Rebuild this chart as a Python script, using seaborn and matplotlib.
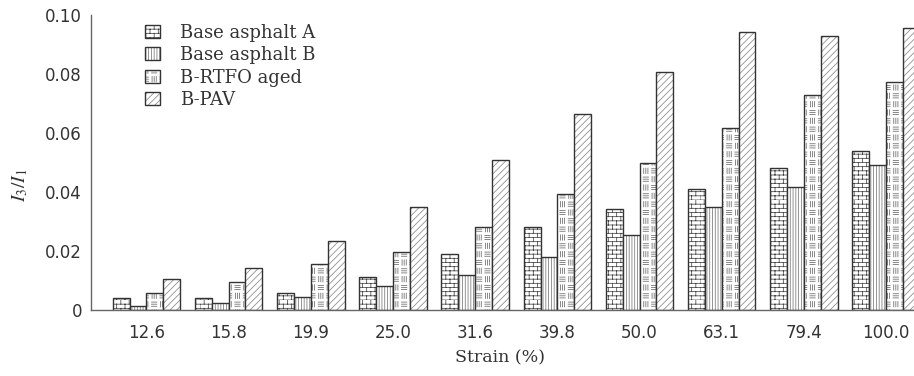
import numpy as np
import pandas as pd
import matplotlib
matplotlib.use("Agg")
import matplotlib.pyplot as plt
import matplotlib.colors as mcolors
import seaborn as sns
from matplotlib import hatch as mhatch
from matplotlib.path import Path
from matplotlib.patches import Patch

# ---------------- data ----------------
strains = ["12.6", "15.8", "19.9", "25.0", "31.6", "39.8", "50.0", "63.1", "79.4", "100.0"]
series_names = ["Base asphalt A", "Base asphalt B", "B-RTFO aged", "B-PAV"]
base_a = [0.0040, 0.0041, 0.0059, 0.0113, 0.0190, 0.0280, 0.0342, 0.0410, 0.0480, 0.0539]
base_b = [0.0014, 0.0025, 0.0044, 0.0081, 0.0120, 0.0179, 0.0254, 0.0348, 0.0416, 0.0490]
rtfo = [0.0059, 0.0095, 0.0157, 0.0197, 0.0282, 0.0393, 0.0499, 0.0618, 0.0730, 0.0772]
pav = [0.0106, 0.0143, 0.0234, 0.0350, 0.0508, 0.0666, 0.0806, 0.0942, 0.0930, 0.0955]
y_ticks = [0, 0.02, 0.04, 0.06, 0.08, 0.10]
y_tick_labels = ["0", "0.02", "0.04", "0.06", "0.08", "0.10"]

# ---------------- custom hatches ----------------
class BrickHatch(mhatch.HatchPatternBase):
    def __init__(self, hatch, density):
        self.n = int(hatch.count('b') * density)
        self.num_vertices = self.n * self.n * 8

    def set_vertices_and_codes(self, vertices, codes):
        n = self.n
        s = 1.0 / n
        segs = []
        for i in range(n):
            for j in range(n):
                x0, y0 = i * s, j * s
                segs += [((x0, y0), (x0 + s, y0)),
                         ((x0, y0 + s / 2), (x0 + s, y0 + s / 2)),
                         ((x0, y0), (x0, y0 + s / 2)),
                         ((x0 + s / 2, y0 + s / 2), (x0 + s / 2, y0 + s))]
        vertices[:] = np.array(segs).reshape(-1, 2)
        codes[0::2] = Path.MOVETO
        codes[1::2] = Path.LINETO


class BasketHatch(mhatch.HatchPatternBase):
    def __init__(self, hatch, density):
        self.n = int(hatch.count('k') * density)
        self.num_vertices = self.n * self.n * 24

    def set_vertices_and_codes(self, vertices, codes):
        n = self.n
        s = 1.0 / n
        q = s / 2
        m = q * 0.18
        segs = []
        for i in range(n):
            for j in range(n):
                x0, y0 = i * s, j * s
                quads = [(x0, y0 + q, 'h'), (x0 + q, y0 + q, 'v'),
                         (x0, y0, 'v'), (x0 + q, y0, 'h')]
                for qx, qy, kind in quads:
                    for t in (0.25, 0.5, 0.75):
                        if kind == 'h':
                            yy = qy + t * q
                            segs.append(((qx + m, yy), (qx + q - m, yy)))
                        else:
                            xx = qx + t * q
                            segs.append(((xx, qy + m), (xx, qy + q - m)))
        vertices[:] = np.array(segs).reshape(-1, 2)
        codes[0::2] = Path.MOVETO
        codes[1::2] = Path.LINETO


mhatch._hatch_types.extend([BrickHatch, BasketHatch])
mhatch._validate_hatch_pattern = lambda h: None

# ---------------- style ----------------
sns.set_theme(style="white")
plt.rcParams["font.family"] = ["DejaVu Sans"]
plt.rcParams["mathtext.fontset"] = "stix"
plt.rcParams["hatch.linewidth"] = 0.55

edge = "#333333"
hatch_colors = ["#444444", "#777777", "#666666", "#888888"]
hatches = ["bb", "||||||", "k", "/////"]


def style_patch(p, h, hc):
    p.set_hatch(h)
    p.set_edgecolor(edge)
    try:
        p.set_hatchcolor(hc)
    except AttributeError:
        p._hatch_color = mcolors.to_rgba(hc)


df = pd.DataFrame({
    "strain": np.repeat([strains], 4, axis=0).ravel(),
    "series": np.repeat(series_names, len(strains)),
    "value": base_a + base_b + rtfo + pav,
})

fig = plt.figure(figsize=(9.14, 3.76), dpi=100)
ax = fig.add_axes([91 / 914, 66 / 376, 823 / 914, 295 / 376])

sns.barplot(data=df, x="strain", y="value", hue="series", order=strains,
            hue_order=series_names, palette=["white"] * 4, saturation=1,
            edgecolor=edge, linewidth=1.0, width=0.82, legend=False, ax=ax)

for cont, h, hc in zip(ax.containers, hatches, hatch_colors):
    for bar in cont:
        style_patch(bar, h, hc)

ax.set_xlim(-0.675, 9.34)
ax.set_ylim(0, 0.10)
ax.set_yticks(y_ticks)
ax.set_yticklabels(y_tick_labels)

for s in ["top", "right"]:
    ax.spines[s].set_visible(False)
for s in ["left", "bottom"]:
    ax.spines[s].set_color("#666666")
    ax.spines[s].set_linewidth(1.0)

ax.tick_params(axis="y", direction="in", length=5, width=1, color="#666666",
               labelsize=12, labelcolor="#333333", pad=6.5)
ax.tick_params(axis="x", length=0, labelsize=12, labelcolor="#333333", pad=10)

ax.set_xlabel("Strain (%)", fontsize=12.5, family="DejaVu Serif", color="#333333", va="center")
ax.xaxis.set_label_coords(0.497, -0.163)
ax.set_ylabel("$I_3/I_1$", fontsize=14, color="#333333", va="center")
ax.yaxis.set_label_coords(-0.086, 0.424)

handles = []
for h, hc, n in zip(hatches, hatch_colors, series_names):
    p = Patch(facecolor="white", edgecolor=edge, linewidth=1.0, label=n)
    style_patch(p, h, hc)
    handles.append(p)
leg = ax.legend(handles=handles, loc="upper left", bbox_to_anchor=(0.0656, 0.97),
                frameon=False, borderpad=0, borderaxespad=0, handlelength=0.85,
                handleheight=0.75, handletextpad=1.1, labelspacing=0.24,
                prop={"family": "DejaVu Serif", "size": 13})
for t in leg.get_texts():
    t.set_color("#333333")

fig.savefig("out.png", dpi=100)
